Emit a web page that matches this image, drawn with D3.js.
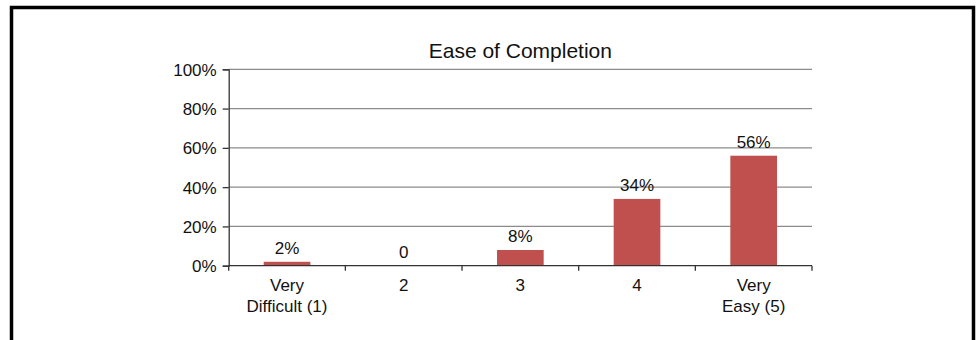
<!DOCTYPE html>
<html>
<head>
<meta charset="utf-8">
<script src="https://cdn.jsdelivr.net/npm/d3@7"></script>
<style>
  body { margin: 0; background: #fff; }
  text { font-family: "Liberation Sans", Arial, sans-serif; fill: #111; }
</style>
</head>
<body>
<div id="chart-area"></div>
<script>
// chart data
var categories = ["Very|Difficult (1)", "2", "3", "4", "Very|Easy (5)"];
var values = [2, 0, 8, 34, 56];
var valueLabels = ["2%", "0", "8%", "34%", "56%"];
var yTicks = [0, 20, 40, 60, 80, 100];
var chartTitle = "Ease of Completion";

var margin = { left: 228.7, right: 166, top: 69.3, bottom: 74.3 };
var W = 978, H = 340;
var width = W - margin.left - margin.right,
    height = H - margin.top - margin.bottom;

var svg = d3.select("#chart-area")
    .append("svg")
        .attr("width", W)
        .attr("height", H);

// outer frame
svg.append("rect")
    .attr("x", 11.5)
    .attr("y", 7.5)
    .attr("width", 962)
    .attr("height", 360)
    .attr("fill", "none")
    .attr("stroke", "#000")
    .attr("stroke-width", 3.5);

var g = svg.append("g")
    .attr("transform", "translate(" + margin.left + ", " + margin.top + ")");

var xScale = d3.scaleBand()
    .domain(categories)
    .range([0, width])
    .padding(0);

var yScale = d3.scaleLinear()
    .domain([0, 100])
    .range([height, 0]);

// gridlines
g.selectAll(".grid")
    .data(yTicks.filter(function(d){ return d > 0; }))
    .enter().append("line")
        .attr("class", "grid")
        .attr("x1", 0)
        .attr("x2", width)
        .attr("y1", function(d){ return yScale(d); })
        .attr("y2", function(d){ return yScale(d); })
        .attr("stroke", "#8c8c8c")
        .attr("stroke-width", 1.3);

// y axis
var yAxis = g.append("g")
    .call(d3.axisLeft(yScale)
        .tickValues(yTicks)
        .tickSize(6)
        .tickPadding(6)
        .tickFormat(function(d){ return d + "%"; }));
yAxis.select(".domain").attr("stroke", "#333").attr("stroke-width", 1.3);
yAxis.selectAll(".tick line").attr("stroke", "#333").attr("stroke-width", 1.3);
yAxis.selectAll("text")
    .attr("font-size", "17px")
    .attr("dy", "0.36em")
    .style("font-family", "'Liberation Sans', Arial, sans-serif")
    .attr("fill", "#111");

// bars
var barW = xScale.bandwidth() * 0.4;
g.selectAll(".bar")
    .data(values)
    .enter().append("rect")
        .attr("class", "bar")
        .attr("x", function(d, i){ return xScale(categories[i]) + (xScale.bandwidth() - barW) / 2; })
        .attr("y", function(d){ return yScale(d); })
        .attr("width", barW)
        .attr("height", function(d){ return height - yScale(d); })
        .attr("fill", "#c0504d");

// x axis line and ticks at category boundaries
var xAxis = g.append("g")
    .attr("transform", "translate(0, " + height + ")");
xAxis.append("line")
    .attr("x1", 0)
    .attr("x2", width)
    .attr("stroke", "#333")
    .attr("stroke-width", 1.3);
var bounds = categories.map(function(c){ return xScale(c); }).concat([width]);
xAxis.selectAll(".xtick")
    .data(bounds)
    .enter().append("line")
        .attr("class", "xtick")
        .attr("x1", function(d){ return d; })
        .attr("x2", function(d){ return d; })
        .attr("y1", 0)
        .attr("y2", 5)
        .attr("stroke", "#333")
        .attr("stroke-width", 1.3);

// category labels (two lines where needed)
var catLabels = xAxis.selectAll(".xlabel")
    .data(categories)
    .enter().append("text")
        .attr("class", "xlabel")
        .attr("text-anchor", "middle")
        .attr("font-size", "17px")
        .attr("x", function(d){ return xScale(d) + xScale.bandwidth() / 2; })
        .attr("y", 25.5);
catLabels.each(function(d){
    var parts = d.split("|");
    var t = d3.select(this);
    parts.forEach(function(p, i){
        t.append("tspan")
            .attr("x", t.attr("x"))
            .attr("dy", i == 0 ? 0 : 20.5)
            .text(p);
    });
});

// value labels
g.selectAll(".vlabel")
    .data(values)
    .enter().append("text")
        .attr("class", "vlabel")
        .attr("text-anchor", "middle")
        .attr("font-size", "17px")
        .attr("x", function(d, i){ return xScale(categories[i]) + xScale.bandwidth() / 2; })
        .attr("y", function(d){ return yScale(d) - 8; })
        .text(function(d, i){ return valueLabels[i]; });

// title
svg.append("text")
    .attr("x", margin.left + width / 2)
    .attr("y", 58)
    .attr("text-anchor", "middle")
    .attr("font-size", "21px")
    .text(chartTitle);
</script>
</body>
</html>
